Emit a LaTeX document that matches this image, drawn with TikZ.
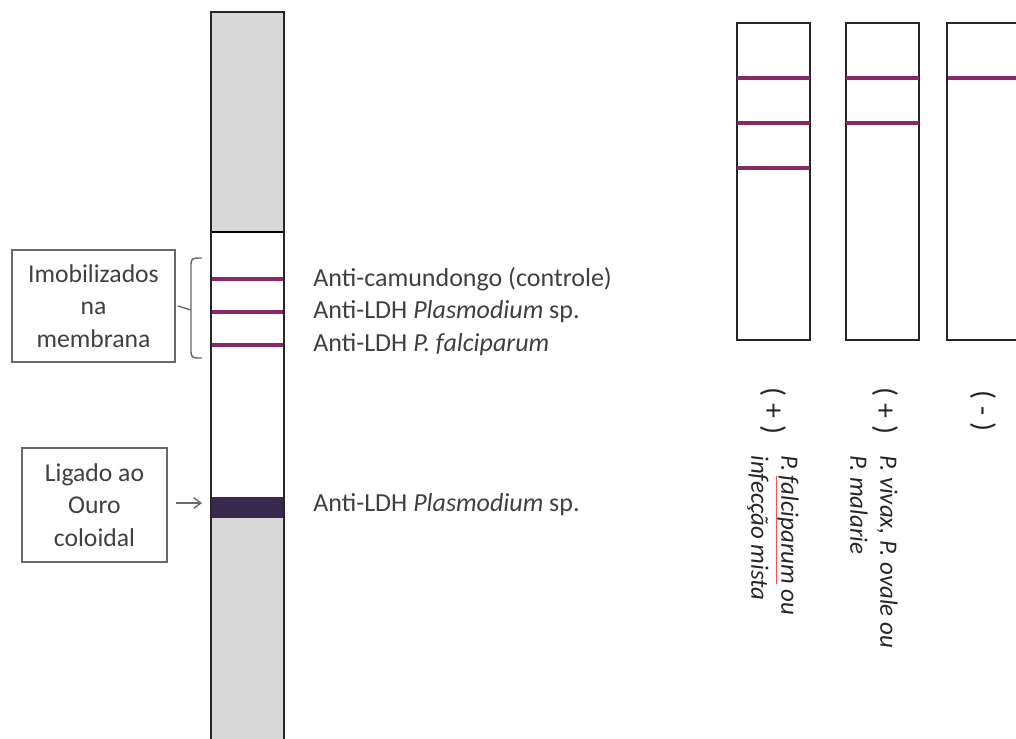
\documentclass[tikz,border=0pt]{standalone}
\usepackage{fontspec}
\setmainfont{Carlito}
\usetikzlibrary{arrows.meta}
\definecolor{stripgray}{RGB}{216,216,216}
\definecolor{bandpurple}{RGB}{135,40,105}
\definecolor{darkband}{RGB}{55,42,78}
\definecolor{txtgray}{RGB}{64,64,64}
\definecolor{boxgray}{RGB}{105,105,105}
\newcommand{\redul}[1]{\setbox0\hbox{#1}\rlap{\color{red!70!white}\rule[-3pt]{\wd0}{0.6pt}}\box0\relax}
\begin{document}
\begin{tikzpicture}[x=0.02cm,y=-0.02cm,
  stripline/.style={line width=1.5pt, black!85},
  band/.style={line width=1.8pt, bandpurple},
  infobox/.style={draw=boxgray, line width=0.9pt, align=center, text=txtgray, font=\fontsize{14.6}{18.5}\selectfont, inner sep=0pt},
  lbl/.style={anchor=west, text=txtgray, font=\fontsize{14.8}{17}\selectfont, inner sep=0pt},
  rlbl/.style={rotate=-90, font=\itshape\fontsize{14.2}{17}\selectfont, text=black!85, align=left, inner sep=0pt, anchor=north west},
  sign/.style={rotate=-90, font=\fontsize{17}{17}\selectfont, text=black!85, inner sep=0pt},
  connector/.style={draw=boxgray, line width=0.8pt}
]
\useasboundingbox (0,0) rectangle (1016,738);

% main strip
\fill[stripgray] (211,12) rectangle (284,232);
\fill[stripgray] (211,518) rectangle (284,745);
\fill[darkband] (211,497) rectangle (284,518);
\draw[band] (211,279) -- (284,279);
\draw[band] (211,312) -- (284,312);
\draw[band] (211,345) -- (284,345);
\draw[line width=1pt] (211,232) -- (284,232);
\draw[stripline] (211,745) -- (211,12) -- (284,12) -- (284,745);

% label boxes
\node[infobox, minimum width=3.26cm, minimum height=2.24cm] (imob) at (93.5,306) {Imobilizados\\na\\membrana};
\node[infobox, minimum width=2.9cm, minimum height=2.28cm] (ouro) at (94.5,505) {Ligado ao\\Ouro\\coloidal};

% bracket
\coordinate (brtop) at (202,258);
\coordinate (brbot) at (202,358);
\coordinate (brmid) at (191,310);
\draw[connector] (brtop) .. controls (191,258) .. (191,268) -- (191,348) .. controls (191,358) .. (brbot);
\draw[connector] (imob.east) ++(2,0) -- (brmid);

% arrow
\coordinate (arrend) at (202,503);
\draw[connector, -{Straight Barb[length=4pt,width=6pt]}, shorten <=0.16cm] (ouro.east |- arrend) -- (arrend);

% labels
\node[lbl] (l1) at (313,279) {Anti-camundongo (controle)};
\node[lbl] (l2) at (313,312) {Anti-LDH \textit{Plasmodium} sp.};
\node[lbl] (l3) at (313,345) {Anti-LDH \textit{P. falciparum}};
\node[lbl] (l4) at (313,505) {Anti-LDH \textit{Plasmodium} sp.};

% result strips
\foreach \x in {737,846}{
  \draw[stripline] (\x,23) rectangle ++(73,317);
}
\draw[band] (737,78) -- (810,78);
\draw[band] (737,123) -- (810,123);
\draw[band] (737,168) -- (810,168);
\draw[band] (846,78) -- (919,78);
\draw[band] (846,123) -- (919,123);
\draw[band] (947,78) -- (1020,78);
\draw[stripline] (947,23) rectangle (1020,340);

% result labels
\node[sign] (s1) at (773,411) {( + )};
\node[sign] (s2) at (885,411) {( + )};
\node[sign] (s3) at (983,411) {( - )};
\node[rlbl] (r1) at (799,455) {P.\,\redul{falciparum} ou\\infecção mista};
\node[rlbl] (r2) at (898,455) {P. vivax, P. ovale ou\\P. malarie};
\end{tikzpicture}
\end{document}
